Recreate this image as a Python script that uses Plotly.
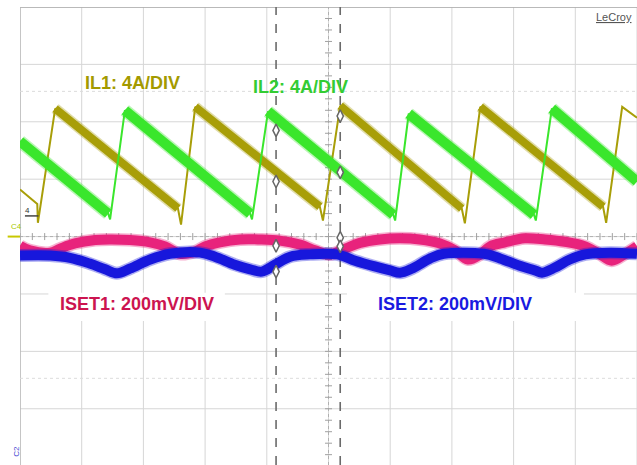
import numpy as np
import plotly.graph_objects as go

# ---- data (time and amplitude in scope divisions) ----
il1_t = [0.00, 0.28, 0.29, 0.57, 2.56, 2.61, 2.84, 4.86, 4.91, 5.19, 7.16, 7.21, 7.46, 9.45, 9.50, 9.76, 10.0]
il1_v = [0.82, 0.57, 0.24, 2.23, 0.49, 0.21, 2.26, 0.52, 0.28, 2.28, 0.49, 0.23, 2.26, 0.52, 0.24, 2.26, 2.07]

il2_t = [0.00, 1.43, 1.46, 1.70, 3.73, 3.76, 4.02, 6.05, 6.08, 6.30, 8.33, 8.36, 8.62, 10.0]
il2_v = [1.66, 0.40, 0.30, 2.20, 0.40, 0.30, 2.18, 0.38, 0.28, 2.14, 0.38, 0.28, 2.23, 0.96]

iset1_t = [0.00, 0.16, 0.49, 0.65, 0.89, 1.22, 1.46, 1.78, 2.11, 2.35, 2.59, 2.84, 3.00, 3.24, 3.57,
           3.89, 4.21, 4.54, 4.78, 5.02, 5.27, 5.51, 5.83, 6.16, 6.48, 6.81, 7.05, 7.26, 7.46, 7.62,
           7.86, 8.18, 8.51, 8.83, 9.16, 9.40, 9.59, 9.81, 10.0]
iset1_v = [-0.16, -0.24, -0.28, -0.21, -0.12, -0.06, -0.05, -0.06, -0.10, -0.17, -0.30, -0.26, -0.17,
           -0.10, -0.05, -0.05, -0.07, -0.14, -0.24, -0.31, -0.21, -0.11, -0.05, -0.03, -0.05, -0.12,
           -0.24, -0.40, -0.31, -0.17, -0.10, -0.03, -0.05, -0.09, -0.17, -0.31, -0.42, -0.30, -0.17]

iset2_t = [0.00, 0.49, 0.81, 1.13, 1.38, 1.57, 1.78, 2.11, 2.43, 2.92, 3.16, 3.48, 3.73, 3.92, 4.13,
           4.38, 4.70, 5.14, 5.43, 5.75, 6.00, 6.16, 6.35, 6.65, 6.87, 7.52, 7.78, 8.10, 8.35, 8.46,
           8.67, 8.91, 9.16, 9.56, 10.0]
iset2_v = [-0.33, -0.33, -0.37, -0.47, -0.57, -0.64, -0.56, -0.40, -0.30, -0.28, -0.35, -0.49, -0.57,
           -0.61, -0.49, -0.35, -0.31, -0.31, -0.42, -0.52, -0.59, -0.63, -0.56, -0.38, -0.30, -0.30,
           -0.38, -0.51, -0.59, -0.63, -0.54, -0.40, -0.31, -0.28, -0.30]

cursor_t = [4.15, 5.19]
cursor_mark_t = [4.15, 4.15, 4.15, 4.15, 5.19, 5.19, 5.19, 5.19]
cursor_mark_v = [1.85, 0.96, -0.16, -0.61, 2.10, 1.12, -0.02, -0.17]

labels = ["IL1: 4A/DIV", "IL2: 4A/DIV", "ISET1: 200mV/DIV", "ISET2: 200mV/DIV"]
label_t = [1.82, 4.54, 1.90, 7.05]
label_v = [2.68, 2.61, -1.17, -1.17]

# ---- colours ----
C_IL1 = "#A89E08"
C_IL2 = "#3AE62C"
C_IS1 = "#E8237C"
C_IS2 = "#1717DC"
T_IL1 = "#A39A00"
T_IL2 = "#33CC33"
T_IS1 = "#CC1450"
T_IS2 = "#1A1AE0"

YMIN, YMAX = -3.98, 4.0


def ramps(t, v, min_dt=0.5):
    """Keep only the slow ramps (long segments) for the thick noisy band."""
    xs, ys = [], []
    for i in range(len(t) - 1):
        if t[i + 1] - t[i] > min_dt:
            xs += [t[i], t[i + 1], None]
            ys += [v[i], v[i + 1], None]
    return xs, ys


fig = go.Figure()

# ---- graticule ----
shapes = []
grid_c = "#D6D6D6"
for gx in range(0, 11):
    shapes.append(dict(type="line", xref="x", yref="y", x0=gx, x1=gx, y0=YMIN, y1=YMAX,
                       line=dict(color=grid_c, width=1), layer="below"))
for gy in range(-3, 5):
    shapes.append(dict(type="line", xref="x", yref="y", x0=0, x1=10, y0=gy, y1=gy,
                       line=dict(color=grid_c, width=1), layer="below"))
# frame lines
shapes.append(dict(type="line", xref="x", yref="y", x0=0, x1=10, y0=YMAX, y1=YMAX,
                   line=dict(color="#A8A8A8", width=1.5), layer="below"))
shapes.append(dict(type="line", xref="x", yref="y", x0=0, x1=0, y0=YMIN, y1=YMAX,
                   line=dict(color="#B8B8B8", width=1.5), layer="below"))
# faint dotted lines
for gy in (2.53, -2.47):
    shapes.append(dict(type="line", xref="x", yref="y", x0=0, x1=10, y0=gy, y1=gy,
                       line=dict(color="#DCDCDC", width=1, dash="dot"), layer="below"))
# white label boxes
shapes.append(dict(type="rect", xref="x", yref="y", x0=0.46, x1=3.32, y0=-0.98, y1=-1.47,
                   fillcolor="white", line=dict(width=0), layer="below"))
shapes.append(dict(type="rect", xref="x", yref="y", x0=5.30, x1=9.14, y0=-0.98, y1=-1.47,
                   fillcolor="white", line=dict(width=0), layer="below"))
# centre axes (dotted)
shapes.append(dict(type="line", xref="x", yref="y", x0=0, x1=10, y0=0, y1=0,
                   line=dict(color="#B0B0B0", width=1, dash="dot"), layer="below"))
shapes.append(dict(type="line", xref="x", yref="y", x0=5, x1=5, y0=YMIN, y1=YMAX,
                   line=dict(color="#B0B0B0", width=1, dash="dot"), layer="below"))
# cursors
for ct in cursor_t:
    shapes.append(dict(type="line", xref="x", yref="y", x0=ct, x1=ct, y0=YMIN, y1=YMAX,
                       line=dict(color="#6A6A6A", width=1.6, dash="dash"), layer="below"))
# ground reference marker at the left edge
shapes.append(dict(type="line", xref="paper", yref="y", x0=-0.02, x1=0.0, y0=0.0, y1=0.0,
                   line=dict(color="#C8C800", width=2)))
shapes.append(dict(type="line", xref="x", yref="y", x0=0.08, x1=0.3, y0=0.36, y1=0.36,
                   line=dict(color="#444444", width=1.5)))

# minor ticks on centre axes
tick_x = np.arange(0, 10.01, 0.2)
tick_y = np.arange(-3.8, 4.0, 0.2)
fig.add_trace(go.Scatter(x=tick_x, y=np.zeros_like(tick_x), mode="markers",
                         marker=dict(symbol="line-ns", size=5, line=dict(color="#A0A0A0", width=1)),
                         hoverinfo="skip", showlegend=False))
fig.add_trace(go.Scatter(x=np.full_like(tick_y, 5.0), y=tick_y, mode="markers",
                         marker=dict(symbol="line-ew", size=5, line=dict(color="#A0A0A0", width=1)),
                         hoverinfo="skip", showlegend=False))

# ---- waveforms ----
for t, v, c, w in [(il1_t, il1_v, C_IL1, 8), (il2_t, il2_v, C_IL2, 10)]:
    fig.add_trace(go.Scatter(x=t, y=v, mode="lines", line=dict(color=c, width=2),
                             hoverinfo="skip", showlegend=False))
    rx, ry = ramps(t, v)
    fig.add_trace(go.Scatter(x=rx, y=ry, mode="lines", line=dict(color=c, width=w + 3),
                             opacity=0.35, hoverinfo="skip", showlegend=False))
    fig.add_trace(go.Scatter(x=rx, y=ry, mode="lines", line=dict(color=c, width=w),
                             hoverinfo="skip", showlegend=False))

for t, v, c, w in [(iset1_t, iset1_v, C_IS1, 10), (iset2_t, iset2_v, C_IS2, 10)]:
    fig.add_trace(go.Scatter(x=t, y=v, mode="lines", line=dict(color=c, width=w + 3, shape="spline"),
                             opacity=0.35, hoverinfo="skip", showlegend=False))
    fig.add_trace(go.Scatter(x=t, y=v, mode="lines", line=dict(color=c, width=w, shape="spline"),
                             hoverinfo="skip", showlegend=False))

# cursor markers
fig.add_trace(go.Scatter(x=cursor_mark_t, y=cursor_mark_v, mode="markers",
                         marker=dict(symbol="diamond-tall", size=9, color="white",
                                     line=dict(color="#666666", width=1.5)),
                         hoverinfo="skip", showlegend=False))

# ---- text ----
annotations = []
for txt, x, y, col in zip(labels, label_t, label_v, [T_IL1, T_IL2, T_IS1, T_IS2]):
    annotations.append(dict(x=x, y=y, xref="x", yref="y", text="<b>%s</b>" % txt, showarrow=False,
                            font=dict(family="Liberation Sans, Arial, sans-serif", size=18, color=col)))
annotations.append(dict(x=9.63, y=3.83, xref="x", yref="y", text="<u>LeCroy</u>", showarrow=False,
                        font=dict(family="Liberation Sans, Arial, sans-serif", size=11, color="#555555")))
annotations.append(dict(x=-0.018, y=0.17, xref="paper", yref="y", text="C4", showarrow=False,
                        font=dict(family="Liberation Sans, Arial", size=8, color="#A8C800")))
annotations.append(dict(x=0.12, y=0.46, xref="x", yref="y", text="4", showarrow=False,
                        font=dict(family="Liberation Sans, Arial", size=8, color="#333333")))
annotations.append(dict(x=-0.016, y=-3.74, xref="paper", yref="y", text="C2", showarrow=False,
                        textangle=-90,
                        font=dict(family="Liberation Sans, Arial", size=8, color="#4040D0")))

fig.update_layout(
    width=637, height=465,
    margin=dict(l=20, r=0, t=7, b=0),
    paper_bgcolor="white", plot_bgcolor="white",
    shapes=shapes, annotations=annotations,
    xaxis=dict(range=[0, 10], showgrid=False, zeroline=False, showticklabels=False, ticks="",
               showline=False, fixedrange=True),
    yaxis=dict(range=[YMIN, YMAX], showgrid=False, zeroline=False, showticklabels=False, ticks="",
               showline=False, fixedrange=True),
    showlegend=False,
)

fig.write_html("out.html", config={"displayModeBar": False},
               post_script="document.body.style.margin='0px';document.body.style.overflow='hidden';")
